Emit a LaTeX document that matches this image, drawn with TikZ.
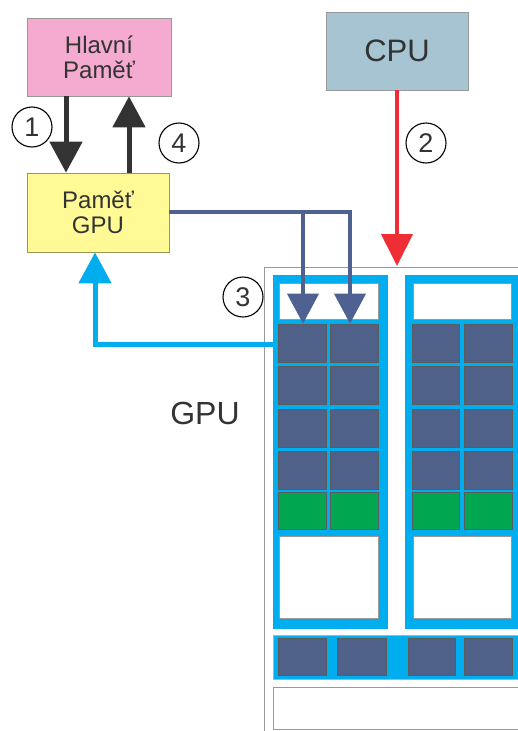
\documentclass[tikz,border=0pt]{standalone}
\usepackage{fontspec}
\setmainfont{Liberation Sans}
\usetikzlibrary{arrows.meta,calc}
\definecolor{pinkf}{HTML}{F5AACF}
\definecolor{yellowf}{HTML}{FFFA96}
\definecolor{cpuf}{HTML}{A6C4D2}
\definecolor{cyanf}{HTML}{00AEEF}
\definecolor{cellf}{HTML}{4F6089}
\definecolor{greenf}{HTML}{00A650}
\definecolor{redf}{HTML}{EE2D35}
\definecolor{darkf}{HTML}{333333}
\definecolor{linkf}{HTML}{4F6190}
\definecolor{txt}{HTML}{333333}
\begin{document}
\begin{tikzpicture}[x=1pt,y=-1pt,
  membox/.style={draw=gray!80,line width=0.8pt,inner sep=0pt,align=center,text=txt,font=\fontsize{24}{25}\selectfont},
  cell/.style={draw=darkf!80,line width=0.6pt,fill=cellf,inner sep=0pt},
  gcell/.style={draw=darkf!80,line width=0.6pt,fill=greenf,inner sep=0pt},
  wbox/.style={draw=gray!80,line width=0.8pt,fill=white,inner sep=0pt},
  smblock/.style={fill=cyanf,inner sep=0pt},
  num/.style={circle,draw=black,line width=1.1pt,minimum size=40pt,inner sep=0pt,font=\fontsize{27}{27}\selectfont,text=txt},
  fat/.style={line width=5pt,-{Triangle[length=31pt,width=32pt]}}
]
\clip (0,0) rectangle (518,731);
\fill[white] (0,0) rectangle (518,731);

% memory boxes
\node[membox,fill=pinkf,minimum width=144pt,minimum height=78pt] (hm) at (99,57) {Hlavní\\Paměť};
\node[membox,fill=yellowf,draw=yellowf!60!black,minimum width=142pt,minimum height=79pt] (pg) at (98,212.5) {Paměť\\GPU};
\node[membox,fill=cpuf,minimum width=142pt,minimum height=78pt,font=\fontsize{31}{31}\selectfont] (cpu) at (397,51) {CPU};

% GPU outer frame
\draw[gray!80,line width=0.9pt] (264,745) -- (264,267) -- (530,267);
\coordinate (gputop) at (397,266);

% SM blocks
\node[smblock,minimum width=115pt,minimum height=354pt] (sm1) at (330.5,452) {};
\node[smblock,minimum width=120pt,minimum height=354pt] (sm2) at (465,452) {};

% top white boxes
\node[wbox,minimum width=99pt,minimum height=36pt] (t1) at (328.5,301) {};
\node[wbox,minimum width=98pt,minimum height=36pt] (t2) at (462,301) {};

% cell rows
\foreach \r/\y in {1/343,2/385,3/428,4/470}{
  \node[cell,minimum width=48pt,minimum height=38pt] (a\r) at (302,\y) {};
  \node[cell,minimum width=48pt,minimum height=38pt] (b\r) at (354,\y) {};
  \node[cell,minimum width=47pt,minimum height=38pt] (c\r) at (435.5,\y) {};
  \node[cell,minimum width=48pt,minimum height=38pt] (d\r) at (488,\y) {};
}
\node[gcell,minimum width=48pt,minimum height=37pt] (g1) at (302,511) {};
\node[gcell,minimum width=48pt,minimum height=37pt] (g2) at (354,511) {};
\node[gcell,minimum width=47pt,minimum height=37pt] (g3) at (435.5,511) {};
\node[gcell,minimum width=48pt,minimum height=37pt] (g4) at (488,511) {};

% big white boxes
\node[wbox,minimum width=99pt,minimum height=82pt] (w1) at (328.5,577) {};
\node[wbox,minimum width=98pt,minimum height=82pt] (w2) at (462,577) {};

% bottom bar
\node[smblock,draw=gray!60,line width=0.6pt,minimum width=260pt,minimum height=44pt] (bar) at (403,657) {};
\node[cell,minimum width=48pt,minimum height=37pt] (e1) at (302,656.5) {};
\node[cell,minimum width=49pt,minimum height=37pt] (e2) at (361.5,656.5) {};
\node[cell,minimum width=47pt,minimum height=37pt] (e3) at (431.5,656.5) {};
\node[cell,minimum width=48pt,minimum height=37pt] (e4) at (488,656.5) {};

% bottom white box
\node[wbox,minimum width=260pt,minimum height=42pt] (mem) at (403,708) {};

% GPU label
\node[text=txt,font=\fontsize{32}{32}\selectfont] (gpu) at (205,413) {GPU};

% arrows 1 and 4
\draw[fat,darkf] ([xshift=-33pt]hm.south) -- ([xshift=-32pt]pg.north);
\draw[fat,darkf] ([xshift=31pt]pg.north) -- ([xshift=30pt]hm.south);

% CPU to GPU
\draw[redf,line width=4pt,-{Triangle[length=32pt,width=31pt]}] (cpu.south) -- (gputop);

% GPU memory to SM
\coordinate (j1) at (303,212);
\coordinate (j2) at (350,212);
\draw[linkf,line width=4pt,-{Triangle[length=30pt,width=31pt]}] (pg.east |- j1) -- (j2) -- (j2 |- a1.north);
\draw[linkf,line width=4pt,-{Triangle[length=30pt,width=31pt]}] (j1) -- (j1 |- a1.north);

% SM to GPU memory
\coordinate (k1) at (95,344);
\draw[cyanf,line width=5pt,-{Triangle[length=31pt,width=32pt]}] (sm1.west |- k1) -- (k1) -- (k1 |- pg.south);

% numbers
\node[num] (n1) at (32,127) {1};
\node[num] (n4) at (179,143) {4};
\node[num] (n2) at (426,143) {2};
\node[num] (n3) at (243,297) {3};
\end{tikzpicture}
\end{document}
